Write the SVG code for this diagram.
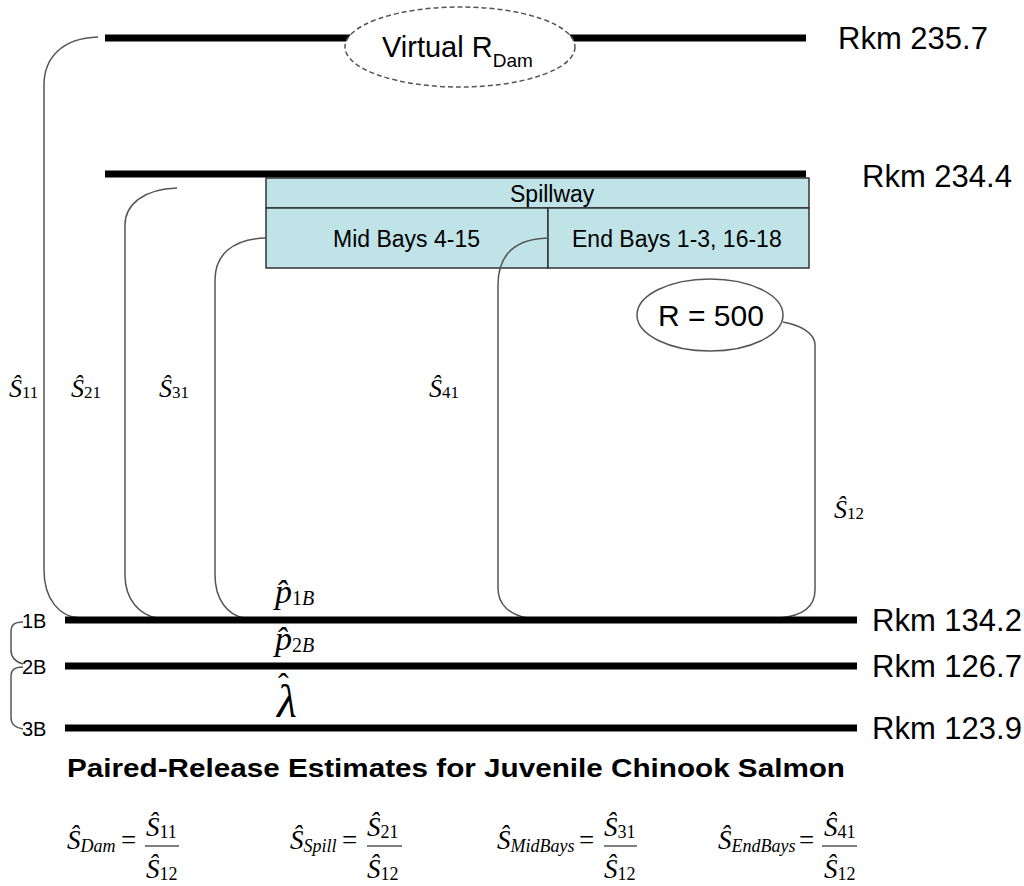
<svg xmlns="http://www.w3.org/2000/svg" width="1024" height="886" viewBox="0 0 1024 886">
<style>
.bar{stroke:#000;stroke-width:7;fill:none}
.cur{stroke:#555;stroke-width:1.5;fill:none}
.sans{font-family:"Liberation Sans",Arial,sans-serif;fill:#000}
.rkm{font-family:"Liberation Sans",Arial,sans-serif;font-size:31px;fill:#000}
.bay{font-family:"Liberation Sans",Arial,sans-serif;font-size:23px;fill:#000}
.m{font-family:"Liberation Serif","Times New Roman",serif;fill:#000}
.it{font-style:italic}
.lab{font-size:26px}
.sub{font-size:17px;font-style:normal}
.fs{font-size:27px}
.fsub{font-size:18px}
</style>
<rect width="1024" height="886" fill="#fff"/>
<g id="rkm235">
<line class="bar" x1="105" y1="38" x2="806" y2="38"/>
<text class="rkm" x="838" y="49">Rkm 235.7</text>
</g>
<g id="virtual">
<ellipse cx="460" cy="47" rx="115" ry="40" fill="#fff" stroke="#555" stroke-width="1.5" stroke-dasharray="5,3"/>
<text class="sans" x="382" y="57" font-size="29">Virtual R<tspan font-size="19" dy="10">Dam</tspan></text>
</g>
<g id="rkm234">
<line class="bar" x1="105" y1="174" x2="806" y2="174"/>
<text class="rkm" x="862" y="187">Rkm 234.4</text>
</g>
<g id="spillway">
<rect x="266" y="178" width="543" height="30" fill="#bfe3e6" stroke="#333" stroke-width="1.5"/>
<text class="bay" x="510" y="202">Spillway</text>
</g>
<g id="midbays">
<rect x="266" y="208" width="282" height="60" fill="#bfe3e6" stroke="#333" stroke-width="1.5"/>
<text class="bay" x="333" y="247">Mid Bays 4-15</text>
</g>
<g id="endbays">
<rect x="548" y="208" width="261" height="60" fill="#bfe3e6" stroke="#333" stroke-width="1.5"/>
<text class="bay" x="572" y="247">End Bays 1-3, 16-18</text>
</g>
<g id="release">
<ellipse cx="710" cy="315" rx="73" ry="36" fill="#fff" stroke="#555" stroke-width="1.5"/>
<text class="sans" x="658" y="326" font-size="30">R = 500</text>
</g>
<g id="connectors">
<path class="cur" d="M98 37 C62 38 44 58 44 85 L44 570 C44 600 60 617 80 618"/>
<path class="cur" d="M177 188 C143 189 125 205 125 225 L125 575 C125 600 140 615 157 618"/>
<path class="cur" d="M266 238 C232 239 215 255 215 280 L215 575 C215 600 228 615 244 618"/>
<path class="cur" d="M548 238 C515 239 498 255 498 285 L498 588 C498 605 510 615 528 618"/>
<path class="cur" d="M783 322 C800 325 815 333 815 345 L815 590 C815 608 800 616 780 618"/>
<path class="cur" d="M23 622 C14 622 11 625 11 632 L11 650 C11 658 16 662 23 664"/>
<path class="cur" d="M23 667 C14 667 11 670 11 677 L11 718 C11 724 16 728 23 729"/>
</g>
<g id="slabels">
<text class="m lab" x="9" y="397"><tspan class="it">Ŝ</tspan><tspan class="sub" dy="1">11</tspan></text>
<text class="m lab" x="71" y="397"><tspan class="it">Ŝ</tspan><tspan class="sub" dy="1">21</tspan></text>
<text class="m lab" x="159" y="397"><tspan class="it">Ŝ</tspan><tspan class="sub" dy="1">31</tspan></text>
<text class="m lab" x="429" y="397"><tspan class="it">Ŝ</tspan><tspan class="sub" dy="1">41</tspan></text>
<text class="m lab" x="834" y="518"><tspan class="it">Ŝ</tspan><tspan class="sub" dy="1">12</tspan></text>
</g>
<g id="b1">
<line class="bar" x1="65" y1="620" x2="857" y2="620"/>
<text class="sans" x="22" y="628" font-size="20">1B</text>
<text class="rkm" x="872" y="631">Rkm 134.2</text>
</g>
<g id="b2">
<line class="bar" x1="65" y1="666" x2="857" y2="666"/>
<text class="sans" x="22" y="674" font-size="20">2B</text>
<text class="rkm" x="872" y="677">Rkm 126.7</text>
</g>
<g id="b3">
<line class="bar" x1="65" y1="728" x2="857" y2="728"/>
<text class="sans" x="22" y="736" font-size="20">3B</text>
<text class="rkm" x="872" y="739">Rkm 123.9</text>
</g>
<g id="pest" class="m">
<text x="275" y="603"><tspan class="it" font-size="34">p̂</tspan><tspan font-size="20" dy="2">1</tspan><tspan class="it" font-size="20">B</tspan></text>
<text x="275" y="650"><tspan class="it" font-size="34">p̂</tspan><tspan font-size="20" dy="2">2</tspan><tspan class="it" font-size="20">B</tspan></text>
<text x="277" y="717"><tspan class="it" font-size="46">λ</tspan><tspan font-size="32" dx="-19" dy="-22">ˆ</tspan></text>
</g>
<g id="title">
<text class="sans" x="67" y="777" font-size="25" font-weight="bold" textLength="778" lengthAdjust="spacingAndGlyphs">Paired-Release Estimates for Juvenile Chinook Salmon</text>
</g>
<g id="formulas" class="m">
<text x="67" y="849"><tspan class="it fs">Ŝ</tspan><tspan class="it fsub" dy="3">Dam</tspan></text>
<text x="121" y="849" font-size="27">=</text>
<text x="146" y="836"><tspan class="it fs">Ŝ</tspan><tspan class="fsub" dy="2">11</tspan></text>
<line x1="145" y1="846" x2="179" y2="846" stroke="#000" stroke-width="1.2"/>
<text x="146" y="878"><tspan class="it fs">Ŝ</tspan><tspan class="fsub" dy="2">12</tspan></text>

<text x="290" y="849"><tspan class="it fs">Ŝ</tspan><tspan class="it fsub" dy="3">Spill</tspan></text>
<text x="342" y="849" font-size="27">=</text>
<text x="367" y="836"><tspan class="it fs">Ŝ</tspan><tspan class="fsub" dy="2">21</tspan></text>
<line x1="367" y1="846" x2="402" y2="846" stroke="#000" stroke-width="1.2"/>
<text x="367" y="878"><tspan class="it fs">Ŝ</tspan><tspan class="fsub" dy="2">12</tspan></text>

<text x="497" y="849"><tspan class="it fs">Ŝ</tspan><tspan class="it fsub" dy="3">MidBays</tspan></text>
<text x="579" y="849" font-size="27">=</text>
<text x="604" y="836"><tspan class="it fs">Ŝ</tspan><tspan class="fsub" dy="2">31</tspan></text>
<line x1="604" y1="846" x2="637" y2="846" stroke="#000" stroke-width="1.2"/>
<text x="604" y="878"><tspan class="it fs">Ŝ</tspan><tspan class="fsub" dy="2">12</tspan></text>

<text x="718" y="849"><tspan class="it fs">Ŝ</tspan><tspan class="it fsub" dy="3">EndBays</tspan></text>
<text x="799" y="849" font-size="27">=</text>
<text x="824" y="836"><tspan class="it fs">Ŝ</tspan><tspan class="fsub" dy="2">41</tspan></text>
<line x1="822" y1="846" x2="857" y2="846" stroke="#000" stroke-width="1.2"/>
<text x="824" y="878"><tspan class="it fs">Ŝ</tspan><tspan class="fsub" dy="2">12</tspan></text>
</g>
</svg>
